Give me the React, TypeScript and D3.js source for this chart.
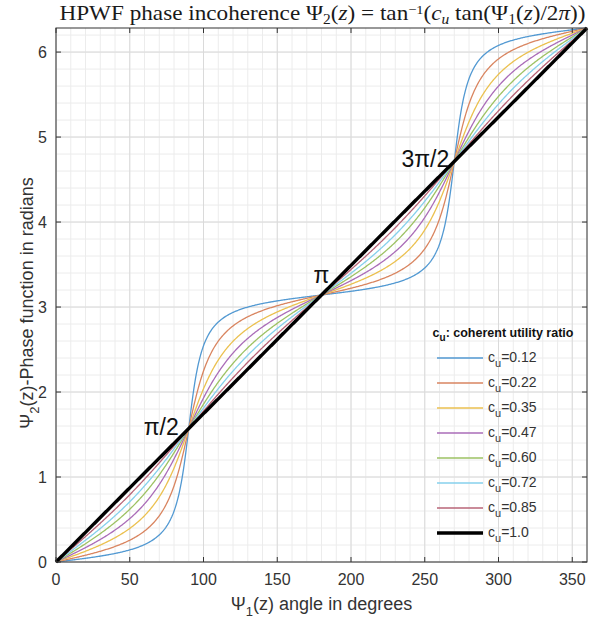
import React from "react";
import * as d3 from "d3";

const cuValues = [0.12, 0.22, 0.35, 0.47, 0.6, 0.72, 0.85, 1.0];
const cuLabels = ["0.12", "0.22", "0.35", "0.47", "0.60", "0.72", "0.85", "1.0"];
const colors = ["#5299d2", "#d98560", "#ebc150", "#aa6cb8", "#9dc263", "#86d0ec", "#b86477", "#000000"];
const xTicks = [0, 50, 100, 150, 200, 250, 300, 350];
const yTicks = [0, 1, 2, 3, 4, 5, 6];
const annLabels = ["π/2", "π", "3π/2"];
const annX = [90, 180, 270];
const angleSamples = d3.range(0, 360.001, 0.5);

const W = 589, H = 624;
const L = 56, R = 587, T = 28, B = 562;

function psi2(deg: number, c: number) {
  const r = (deg * Math.PI) / 180;
  let v = Math.atan2(c * Math.sin(r), Math.cos(r));
  if (v < 0) v += 2 * Math.PI;
  if (deg === 0) v = 0;
  return v;
}

export default function App() {
  const x = d3.scaleLinear().domain([0, 360]).range([L, R]);
  const y = d3.scaleLinear().domain([0, 2 * Math.PI]).range([B, T]);
  const line = d3
    .line<[number, number]>()
    .x((d) => x(d[0]))
    .y((d) => y(d[1]));
  const minorX = d3.range(0, 361, 10);
  const minorY = d3.range(0, 2 * Math.PI, 0.2);
  const sans = "'Liberation Sans', Arial, sans-serif";
  const serif = "'Liberation Serif', 'DejaVu Serif', serif";
  const tickLen = 5;
  const axisCol = "#333";

  return (
    <svg width={W} height={H} style={{ position: "absolute", left: 0, top: 0, background: "#fff" }}>
      {/* grid */}
      <g>
        {minorX.map((v) => (
          <line key={"mx" + v} x1={x(v)} x2={x(v)} y1={T} y2={B} stroke="#ececec" strokeWidth={1} />
        ))}
        {minorY.map((v) => (
          <line key={"my" + v} x1={L} x2={R} y1={y(v)} y2={y(v)} stroke="#ececec" strokeWidth={1} />
        ))}
        {xTicks.map((v) => (
          <line key={"gx" + v} x1={x(v)} x2={x(v)} y1={T} y2={B} stroke="#dadada" strokeWidth={1} />
        ))}
        {yTicks.map((v) => (
          <line key={"gy" + v} x1={L} x2={R} y1={y(v)} y2={y(v)} stroke="#dadada" strokeWidth={1} />
        ))}
      </g>
      {/* curves */}
      <g fill="none">
        {cuValues.map((c, i) => (
          <path
            key={"c" + i}
            d={line(angleSamples.map((a) => [a, psi2(a, c)] as [number, number])) || ""}
            stroke={colors[i]}
            strokeWidth={c === 1 ? 3.4 : 1.3}
            strokeLinejoin="round"
          />
        ))}
      </g>
      {/* axes box */}
      <rect x={L} y={T} width={R - L} height={B - T} fill="none" stroke={axisCol} strokeWidth={1} />
      {xTicks.map((v) => (
        <g key={"tx" + v}>
          <line x1={x(v)} x2={x(v)} y1={B} y2={B - tickLen} stroke={axisCol} />
          <line x1={x(v)} x2={x(v)} y1={T} y2={T + tickLen} stroke={axisCol} />
          <text x={x(v)} y={585} textAnchor="middle" fontFamily={sans} fontSize={16} fill="#333">
            {v}
          </text>
        </g>
      ))}
      {yTicks.map((v) => (
        <g key={"ty" + v}>
          <line x1={L} x2={L + tickLen} y1={y(v)} y2={y(v)} stroke={axisCol} />
          <line x1={R} x2={R - tickLen} y1={y(v)} y2={y(v)} stroke={axisCol} />
          <text x={47} y={y(v)} dy="0.36em" textAnchor="end" fontFamily={sans} fontSize={16} fill="#333">
            {v}
          </text>
        </g>
      ))}
      {/* axis labels */}
      <text x={(L + R) / 2} y={610} textAnchor="middle" fontFamily={sans} fontSize={18} fill="#333">
        Ψ<tspan dy={6} fontSize={13}>1</tspan>
        <tspan dy={-6}>(z) angle in degrees</tspan>
      </text>
      <text
        transform={`translate(33, ${(T + B) / 2 + 8}) rotate(-90)`}
        textAnchor="middle"
        fontFamily={sans}
        fontSize={18}
        fill="#333"
      >
        Ψ<tspan dy={6} fontSize={13}>2</tspan>
        <tspan dy={-6}>(z)-Phase function in radians</tspan>
      </text>
      {/* title */}
      <text
        x={(L + R) / 2 + 1}
        y={20}
        textAnchor="middle"
        fontFamily={serif}
        fontSize={21}
        fill="#1a1a1a"
        textLength={526}
        lengthAdjust="spacingAndGlyphs"
      >
        HPWF phase incoherence Ψ<tspan dy={4} fontSize={14}>2</tspan>
        <tspan dy={-4}>(</tspan>
        <tspan fontStyle="italic">z</tspan>
        <tspan>) = tan</tspan>
        <tspan dy={-6} fontSize={13}>−1</tspan>
        <tspan dy={6}>(</tspan>
        <tspan fontStyle="italic">c</tspan>
        <tspan dy={4} fontSize={14} fontStyle="italic">u</tspan>
        <tspan dy={-4}> tan(Ψ</tspan>
        <tspan dy={4} fontSize={14}>1</tspan>
        <tspan dy={-4}>(</tspan>
        <tspan fontStyle="italic">z</tspan>
        <tspan>)/2</tspan>
        <tspan fontStyle="italic">π</tspan>
        <tspan>))</tspan>
      </text>
      {/* annotations */}
      <text x={x(annX[0]) - 10} y={y(Math.PI / 2) + 6} textAnchor="end" fontFamily={sans} fontSize={23} fill="#111">
        {annLabels[0]}
      </text>
      <text x={x(annX[1])} y={y(Math.PI) - 12} textAnchor="middle" fontFamily={sans} fontSize={23} fill="#111">
        {annLabels[1]}
      </text>
      <text x={x(annX[2]) - 5} y={y((3 * Math.PI) / 2) + 5} textAnchor="end" fontFamily={sans} fontSize={23} fill="#111">
        {annLabels[2]}
      </text>
      {/* legend */}
      <g fontFamily={sans}>
        <text x={503} y={337} textAnchor="middle" fontSize={12.5} fontWeight="bold" fill="#111">
          c<tspan dy={4} fontSize={10}>u</tspan>
          <tspan dy={-4}>: coherent utility ratio</tspan>
        </text>
        {cuLabels.map((lab, i) => (
          <g key={"lg" + i} transform={`translate(0, ${358 + i * 25})`}>
            <line x1={437} x2={483} y1={0} y2={0} stroke={colors[i]} strokeWidth={cuValues[i] === 1 ? 3.4 : 1.5} />
            <text x={488} y={4} fontSize={14} fill="#333">
              c<tspan dy={5} fontSize={11}>u</tspan>
              <tspan dy={-5}>={lab}</tspan>
            </text>
          </g>
        ))}
      </g>
    </svg>
  );
}
